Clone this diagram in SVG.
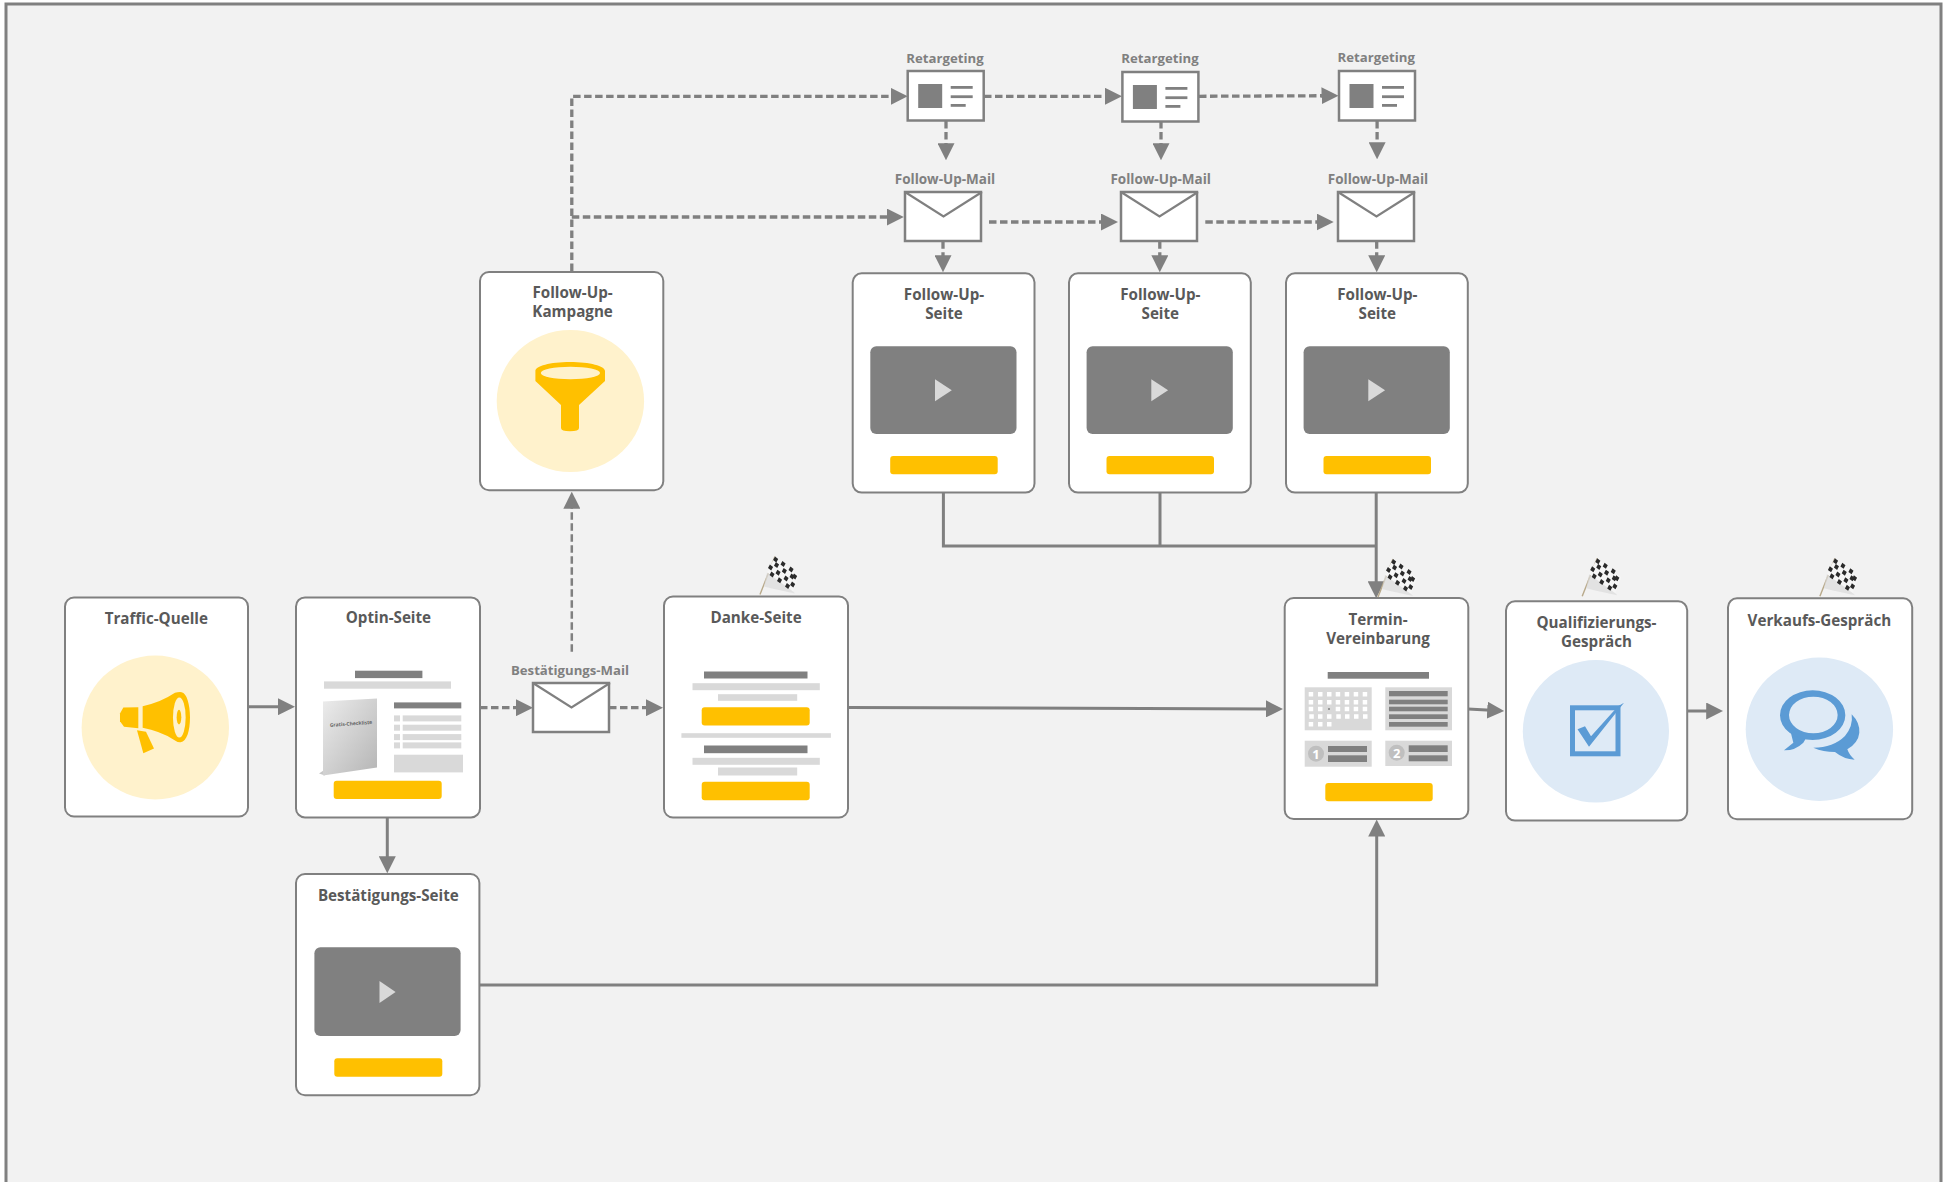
<svg xmlns="http://www.w3.org/2000/svg" xmlns:xlink="http://www.w3.org/1999/xlink" width="1950" height="1182" viewBox="0 0 1950 1182">
<style>
text{font-family:"Open Sans","Noto Sans","Liberation Sans",sans-serif;font-weight:700;text-anchor:middle}
.t{font-size:15.2px;fill:#595959}
.l{font-size:13.5px;fill:#808080}
.r{font-size:13.2px;fill:#808080}
.card{fill:#fff;stroke:#808080;stroke-width:2}
.box{fill:#fff;stroke:#808080;stroke-width:2.5}
.flap{fill:none;stroke:#808080;stroke-width:2.2}
.d{fill:#808080}
.g{fill:#d9d9d9}
.y{fill:#ffc000}
.pale{fill:#fff2cc}
.sky{fill:#deeaf6}
.bl{fill:#5b9bd5}
.s,.h{fill:none;stroke:#808080;stroke-width:3;marker-end:url(#arrow)}
.h{stroke-dasharray:7.500 3.500;stroke-width:3.300}
.p{fill:none;stroke:#808080;stroke-width:3}
</style>
<defs>
<marker id="arrow" markerUnits="userSpaceOnUse" markerWidth="17" markerHeight="17" viewBox="0 0 17 17" refX="8.500" refY="8.500" orient="auto"><path d="M0,0L17,8.500L0,17z" fill="#808080"/></marker>
<linearGradient id="book" x1="0" y1="0" x2="1" y2="1"><stop offset="0" stop-color="#ececec"/><stop offset="1" stop-color="#b5b5b5"/></linearGradient>
<g id="flag">
<path d="M0,0L15,-38" fill="none" stroke="#b8a98a" stroke-width="1.400"/>
<path d="M15,-38L39,-19L33,-3L7,-22z" fill="#f6f6f6"/>
<path d="M7,-22L33,-3L35,-1L12,-6L4,-8z" fill="#dcdcdc" opacity=".7"/>
<path fill="#2b2b2b" d="M15,-38l3.200,2.400-1.900,3.600-3.200-2.400zM22.400,-33.500l3.200,2.400-1.900,3.600-3.200-2.400zM30.400,-28l3.200,2.400-1.900,3.600-3.200-2.400zM15.900,-32.400l3.200,2.400-1.900,3.600-3.200-2.400zM23.700,-26.600l3.200,2.400-1.900,3.600-3.200-2.400zM31.400,-21l3.200,2.400-1.900,3.600-3.200-2.400zM9.900,-30l3.200,2.400-1.900,3.600-3.200-2.400zM17.400,-24.800l3.200,2.400-1.900,3.600-3.200-2.400zM25.400,-19l3.200,2.400-1.900,3.600-3.200-2.400zM11.400,-23l3.200,2.400-1.900,3.600-3.200-2.400zM18.900,-17.200l3.200,2.400-1.900,3.600-3.200-2.400zM26.900,-11.500l3.200,2.400-1.900,3.600-3.200-2.400zM34,-21l3.200,2.400-1.900,3.600-3.200-2.400zM32,-13l3.200,2.400-1.900,3.600-3.200-2.400z"/>
</g>
<g id="env"><rect class="box" x="0" y="0" width="76" height="49"/><path class="flap" d="M0,0L38.500,24.500L77,0"/></g>
<g id="ret"><rect class="box" x="0" y="0" width="76" height="49.500"/><rect class="d" x="10.500" y="13" width="24" height="24"/><rect class="d" x="43" y="15" width="22" height="2.800"/><rect class="d" x="43" y="24.300" width="22" height="2.800"/><rect class="d" x="43" y="33" width="15" height="2.800"/></g>
</defs>

<rect x="0" y="0" width="1950" height="1182" fill="#fff"/>
<path d="M6,1184V4H1941V1184z" fill="#f2f2f2" stroke="#808080" stroke-width="3"/>

<g id="connectors">
<path class="s" d="M248,706.700H286.500"/>
<path class="s" d="M387.300,817.500V864.800"/>
<path class="s" d="M479,985H1376.700V828"/>
<path class="s" d="M848,707.600L1274.500,708.900"/>
<path class="s" d="M1468,709L1495.700,710.600"/>
<path class="s" d="M1687.200,711H1714.700"/>
<path class="p" d="M943.400,492.500V546H1376.200"/>
<path class="p" d="M1160,492.500V546"/>
<path class="s" d="M1376.200,492.500V589.800"/>
<path class="h" d="M480,707.700H524.500"/>
<path class="h" d="M609,707.700H654.500"/>
<path class="h" style="stroke-width:2.500" d="M571.800,651.700V500.200"/>
<path class="h" d="M571.800,271V96.300H899.200"/>
<path class="h" d="M571.800,217H895.300"/>
<path class="h" d="M984,96.300H1113.500"/>
<path class="h" d="M1199,96.300L1330,95.700"/>
<path class="h" d="M946,121V151.800"/>
<path class="h" d="M1161,121V151.800"/>
<path class="h" d="M1377.100,121V150.800"/>
<path class="h" d="M989,222H1109.500"/>
<path class="h" d="M1205.300,222H1325.200"/>
<path class="h" d="M943,241.300V263.800"/>
<path class="h" d="M1159.800,241.300V263.800"/>
<path class="h" d="M1376.700,241.300V263.800"/>
</g>

<g id="traffic-quelle" transform="translate(0,-.5)">
<rect class="card" x="65" y="598" width="183" height="219" rx="9"/>
<text class="t" x="156.300" y="624">Traffic-Quelle</text>
<ellipse class="pale" cx="155.300" cy="728" rx="73.700" ry="72"/>
<g transform="translate(60,640) scale(.3333)">
<path class="y" d="M248,200Q300,190 345,160Q355,157 365,158C380,160 390,195 390,233C390,275 380,305 362,308Q352,309 340,300Q300,275 248,265z"/>
<ellipse class="pale" cx="358" cy="234" rx="19" ry="60"/>
<ellipse class="y" cx="357" cy="233" rx="7" ry="22"/>
<path class="y" d="M190,204L235,203V266L192,262L180,245V222z"/>
<path class="y" d="M231,272L258,277L282,327L250,341z"/>
</g>
</g>

<g id="optin-seite" transform="translate(0,-.6)">
<rect class="card" x="296" y="598" width="184" height="220" rx="9"/>
<text class="t" x="388.400" y="624">Optin-Seite</text>
<rect class="d" x="355" y="671.300" width="67.400" height="7.400"/>
<rect class="g" x="324" y="682" width="127" height="7.300"/>
<path d="M319,774L325,770V776z" fill="#c8c8c8"/>
<path d="M323,702L377,699V768L323,776z" fill="url(#book)"/>
<text x="351" y="726" font-size="5" fill="#666" transform="rotate(-4 351 724)">Gratis-Checkliste</text>
<rect class="d" x="394" y="703" width="67.300" height="6"/>
<rect class="g" x="394" y="716" width="6" height="6"/><rect class="g" x="402.700" y="716" width="58.600" height="6"/>
<rect class="g" x="394" y="725.300" width="6" height="6"/><rect class="g" x="402.700" y="725.300" width="58.600" height="6"/>
<rect class="g" x="394" y="734.700" width="6" height="6"/><rect class="g" x="402.700" y="734.700" width="58.600" height="6"/>
<rect class="g" x="394" y="743" width="6" height="6"/><rect class="g" x="402.700" y="743" width="58.600" height="6"/>
<rect class="g" x="394" y="755.300" width="69" height="17.700"/>
<rect class="y" x="333.700" y="781.300" width="108" height="18.400" rx="3"/>
</g>

<g id="bestaetigungs-mail">
<text class="r" x="570" y="675">Bestätigungs-Mail</text>
<use xlink:href="#env" href="#env" x="533" y="683"/>
</g>

<g id="danke-seite" transform="translate(0,-.5)">
<rect class="card" x="664" y="597" width="184" height="221" rx="9"/>
<text class="t" x="756" y="623">Danke-Seite</text>
<rect class="d" x="704" y="672" width="103.500" height="7"/>
<rect class="g" x="692.500" y="683.700" width="127.300" height="7"/>
<rect class="g" x="718" y="694.700" width="79.200" height="6.600"/>
<rect class="y" x="701.700" y="707.700" width="108" height="18.300" rx="3"/>
<rect class="g" x="681.400" y="733.700" width="149.500" height="4.600"/>
<rect class="d" x="704" y="746" width="103.500" height="7.700"/>
<rect class="g" x="692.500" y="758.300" width="127.300" height="7"/>
<rect class="g" x="718" y="768" width="79.200" height="8"/>
<rect class="y" x="701.700" y="782.300" width="108" height="18.400" rx="3"/>
<use xlink:href="#flag" href="#flag" x="760" y="595"/>
</g>

<g id="bestaetigungs-seite" transform="translate(0,-1)">
<rect class="card" x="296" y="875" width="183.400" height="221.300" rx="9"/>
<text class="t" x="388.300" y="901.700">Bestätigungs-Seite</text>
<rect class="d" x="314.400" y="948.300" width="146.200" height="88.700" rx="6"/>
<path class="g" d="M379.500,982L395.600,993L379.500,1004z"/>
<rect class="y" x="334.300" y="1059.300" width="108" height="18.400" rx="3"/>
</g>

<g id="follow-up-kampagne">
<rect class="card" x="480" y="272" width="183.300" height="218.300" rx="9"/>
<text class="t" x="572.600" y="298.300">Follow-Up-</text>
<text class="t" x="572.600" y="317">Kampagne</text>
<ellipse class="pale" cx="570.400" cy="401" rx="73.700" ry="71"/>
<path class="y" d="M535.400,371C535.400,366 550,362 570,362C590,362 605,366 605,371V381L579,405V428Q579,431.300 570,431.300Q561,431.300 561,428V405L535.400,381z"/>
<ellipse class="pale" cx="570.400" cy="373" rx="29.600" ry="6.300"/>
</g>

<g id="follow-up-seite-1" transform="translate(0,-.7)">
<rect class="card" x="852.700" y="274" width="181.800" height="219.300" rx="9"/>
<text class="t" x="944" y="301">Follow-Up-</text>
<text class="t" x="944" y="320">Seite</text>
<rect class="d" x="870.300" y="347" width="146.200" height="87.700" rx="6"/>
<path class="g" d="M935,380L951.800,391L935,402z"/>
<rect class="y" x="890.200" y="456.700" width="107.500" height="18.300" rx="3"/>
</g>
<g id="follow-up-seite-2" transform="translate(216.300,-.7)">
<rect class="card" x="852.700" y="274" width="181.800" height="219.300" rx="9"/>
<text class="t" x="944" y="301">Follow-Up-</text>
<text class="t" x="944" y="320">Seite</text>
<rect class="d" x="870.300" y="347" width="146.200" height="87.700" rx="6"/>
<path class="g" d="M935,380L951.800,391L935,402z"/>
<rect class="y" x="890.200" y="456.700" width="107.500" height="18.300" rx="3"/>
</g>
<g id="follow-up-seite-3" transform="translate(433.300,-.7)">
<rect class="card" x="852.700" y="274" width="181.800" height="219.300" rx="9"/>
<text class="t" x="944" y="301">Follow-Up-</text>
<text class="t" x="944" y="320">Seite</text>
<rect class="d" x="870.300" y="347" width="146.200" height="87.700" rx="6"/>
<path class="g" d="M935,380L951.800,391L935,402z"/>
<rect class="y" x="890.200" y="456.700" width="107.500" height="18.300" rx="3"/>
</g>

<g id="retargeting-1"><text class="r" x="945" y="63">Retargeting</text><use xlink:href="#ret" href="#ret" x="907.700" y="71"/></g>
<g id="retargeting-2"><text class="r" x="1160" y="63">Retargeting</text><use xlink:href="#ret" href="#ret" x="1122.400" y="72"/></g>
<g id="retargeting-3"><text class="r" x="1376.200" y="62">Retargeting</text><use xlink:href="#ret" href="#ret" x="1339" y="71"/></g>
<g id="follow-up-mail-1"><text class="l" x="945" y="184">Follow-Up-Mail</text><use xlink:href="#env" href="#env" x="905" y="192"/></g>
<g id="follow-up-mail-2"><text class="l" x="1160.700" y="184">Follow-Up-Mail</text><use xlink:href="#env" href="#env" x="1121" y="192"/></g>
<g id="follow-up-mail-3"><text class="l" x="1378" y="184">Follow-Up-Mail</text><use xlink:href="#env" href="#env" x="1338" y="192"/></g>

<g id="termin-vereinbarung" transform="translate(0,-1)">
<rect class="card" x="1284.700" y="599" width="183.600" height="221" rx="9"/>
<text class="t" x="1378" y="625.700">Termin-</text>
<text class="t" x="1378" y="645">Vereinbarung</text>
<rect class="d" x="1327.700" y="673" width="101.300" height="6.700"/>
<rect class="g" x="1304.700" y="688.300" width="67" height="43"/>
<path fill="#fff" d="M1308.700,693h4.500v4.500h-4.500zM1318,693h4.500v4.500h-4.500zM1327,693h4.500v4.500h-4.500zM1335.700,693h4.500v4.500h-4.500zM1344.700,693h4.500v4.500h-4.500zM1353.700,693h4.500v4.500h-4.500zM1362.700,693h4.500v4.500h-4.500zM1308.700,701h4.500v4.500h-4.500zM1318,701h4.500v4.500h-4.500zM1327,701h4.500v4.500h-4.500zM1335.700,701h4.500v4.500h-4.500zM1344.700,701h4.500v4.500h-4.500zM1353.700,701h4.500v4.500h-4.500zM1362.700,701h4.500v4.500h-4.500zM1308.700,707.700h4.500v4.500h-4.500zM1318,707.700h4.500v4.500h-4.500zM1335.700,707.700h4.500v4.500h-4.500zM1344.700,707.700h4.500v4.500h-4.500zM1353.700,707.700h4.500v4.500h-4.500zM1362.700,707.700h4.500v4.500h-4.500zM1309.300,715.300h4.500v4.500h-4.500zM1318,715.300h4.500v4.500h-4.500zM1327,715.300h4.500v4.500h-4.500zM1336.300,715.300h4.500v4.500h-4.500zM1345,715.300h4.500v4.500h-4.500zM1354,715.300h4.500v4.500h-4.500zM1363,715.300h4.500v4.500h-4.500zM1308.700,723h4.500v4.500h-4.500zM1318,723h4.500v4.500h-4.500zM1327,723h4.500v4.500h-4.500z"/>
<circle class="d" cx="1329" cy="710" r="1"/>
<rect class="g" x="1385.300" y="688.300" width="66.700" height="43"/>
<rect class="d" x="1389" y="692" width="58.700" height="5.300"/>
<rect class="d" x="1389" y="700.700" width="58.700" height="4.600"/>
<rect class="d" x="1389" y="707.700" width="58.700" height="4.600"/>
<rect class="d" x="1389" y="715.300" width="58.700" height="4.700"/>
<rect class="d" x="1389" y="723" width="58.700" height="4.700"/>
<rect class="g" x="1304.700" y="741.700" width="67" height="26"/>
<circle cx="1316" cy="754.700" r="8" fill="#bfbfbf"/>
<text x="1316" y="759.500" font-size="13" fill="#fff">1</text>
<rect class="d" x="1328" y="747" width="39" height="6"/>
<rect class="d" x="1328" y="756.300" width="39" height="6.700"/>
<rect class="g" x="1385.300" y="741.700" width="66.700" height="25.300"/>
<circle cx="1396.700" cy="753.700" r="8" fill="#bfbfbf"/>
<text x="1396.700" y="758.500" font-size="13" fill="#fff">2</text>
<rect class="d" x="1408.700" y="746.300" width="39" height="6.700"/>
<rect class="d" x="1408.700" y="756.300" width="39" height="6"/>
<rect class="y" x="1325.300" y="784" width="107.400" height="18.300" rx="3"/>
<use xlink:href="#flag" href="#flag" x="1378" y="598"/>
</g>

<g id="qualifizierungs-gespraech" transform="translate(0,-.7)">
<rect class="card" x="1506" y="602" width="181.200" height="219.300" rx="9"/>
<text class="t" x="1596.500" y="629">Qualifizierungs-</text>
<text class="t" x="1596.500" y="648">Gespräch</text>
<ellipse class="sky" cx="1595.900" cy="732" rx="73.100" ry="71.200"/>
<rect x="1572.500" y="708.500" width="45.500" height="46" fill="none" stroke="#5b9bd5" stroke-width="5"/>
<path class="bl" d="M1577.500,730L1585,727L1591,737L1618,707L1624,703.500L1589,747.500z"/>
<use xlink:href="#flag" href="#flag" x="1582.200" y="597"/>
</g>

<g id="verkaufs-gespraech" transform="translate(0,-.7)">
<rect class="card" x="1728" y="599" width="184.200" height="221" rx="9"/>
<text class="t" x="1819.400" y="626.700">Verkaufs-Gespräch</text>
<ellipse class="sky" cx="1819.400" cy="730" rx="73.700" ry="71.700"/>
<g transform="translate(1770,680) scale(.3333)">
<path class="bl" d="M62,158L70,190L42,213Q75,214 100,190L112,170z"/>
<path class="bl" fill-rule="evenodd" d="M30,107.500A98,74.500 0 1 1 226,107.500A98,74.500 0 1 1 30,107.500zM57,107A73,55 0 1 0 203,107A73,55 0 1 0 57,107z"/>
<path class="bl" d="M245,105Q270,130 268,160Q265,190 232,210Q238,228 254,241Q222,240 195,218Q160,218 130,205Q190,205 225,170Q250,140 245,105z"/>
</g>
<use xlink:href="#flag" href="#flag" x="1819.900" y="597"/>
</g>
</svg>
